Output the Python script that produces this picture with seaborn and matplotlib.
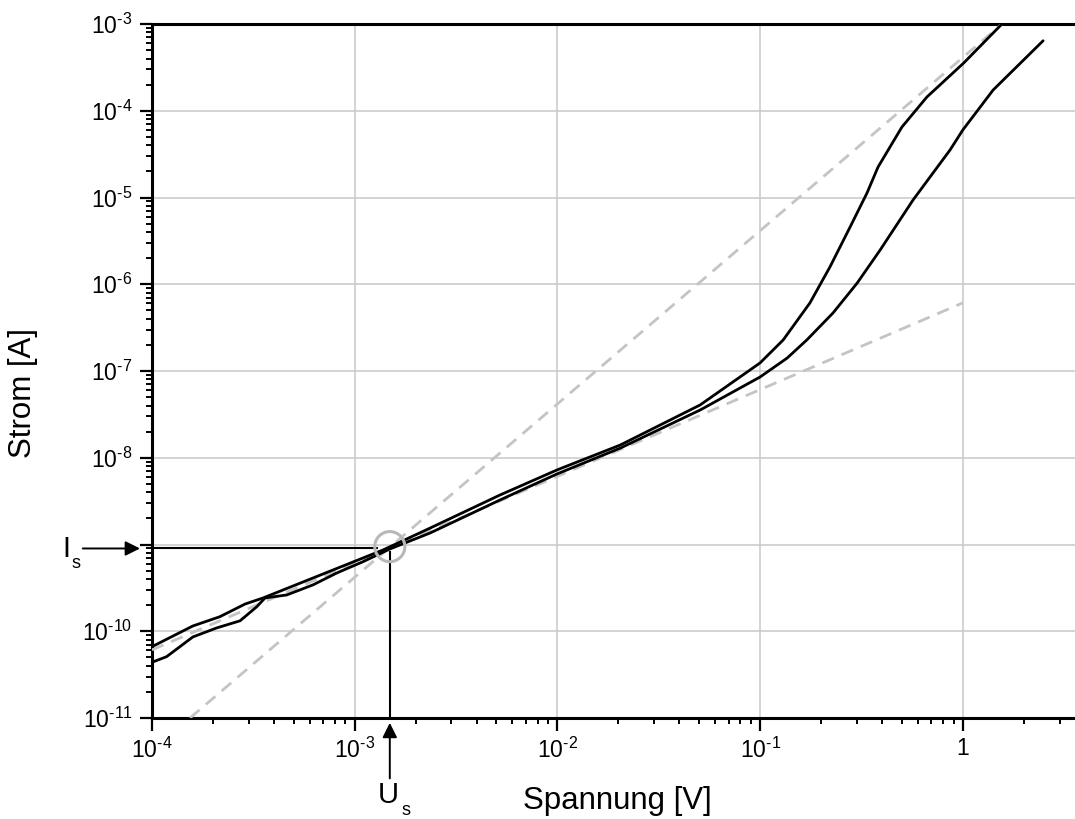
import numpy as np
import pandas as pd
import matplotlib
matplotlib.use("Agg")
import matplotlib.pyplot as plt
import matplotlib.ticker as mticker
import seaborn as sns

# ---------------- data ----------------
curve1_V = [1.00e-4, 1.59e-4, 2.16e-4, 2.88e-4, 3.53e-4, 5.37e-4, 8.45e-4, 1.38e-3,
            2.36e-3, 5.21e-3, 9.95e-3, 2.04e-2, 5.06e-2, 0.100, 0.130, 0.176, 0.221,
            0.278, 0.337, 0.382, 0.501, 0.665, 1.01, 1.56]
curve1_I = [6.64e-11, 1.15e-10, 1.47e-10, 2.06e-10, 2.42e-10, 3.58e-10, 5.47e-10, 8.65e-10,
            1.55e-9, 3.72e-9, 7.23e-9, 1.40e-8, 4.06e-8, 1.24e-7, 2.28e-7, 6.08e-7, 1.58e-6,
            4.57e-6, 1.13e-5, 2.25e-5, 6.50e-5, 1.44e-4, 3.55e-4, 1.00e-3]

curve2_V = [1.00e-4, 1.18e-4, 1.59e-4, 2.08e-4, 2.72e-4, 3.29e-4, 3.61e-4, 4.62e-4,
            6.22e-4, 8.15e-4, 1.10e-3, 1.49e-3, 2.36e-3, 5.21e-3, 9.95e-3, 2.04e-2,
            5.06e-2, 0.100, 0.136, 0.170, 0.229, 0.301, 0.391, 0.568, 0.865, 1.00, 1.41, 2.49]
curve2_I = [4.39e-11, 5.09e-11, 8.59e-11, 1.09e-10, 1.32e-10, 1.92e-10, 2.42e-10, 2.62e-10,
            3.42e-10, 4.69e-10, 6.34e-10, 8.87e-10, 1.36e-9, 3.26e-9, 6.50e-9, 1.29e-8,
            3.55e-8, 8.53e-8, 1.41e-7, 2.28e-7, 4.67e-7, 1.03e-6, 2.48e-6, 9.35e-6,
            3.53e-5, 6.00e-5, 1.73e-4, 6.41e-4]

ohm_V = [1.0e-4, 1.0]
ohm_I = [6.1e-11, 6.1e-7]
sclc_V = [1.54e-4, 1.56]
sclc_I = [1.0e-11, 1.0e-3]

Is_value = 9.0e-10
Us_value = 1.49e-3
Is_line_end_V = 1.30e-3

y_ticks = [1e-11, 1e-10, 1e-9, 1e-8, 1e-7, 1e-6, 1e-5, 1e-4, 1e-3]
y_labels = ['10^{-11}', '10^{-10}', '', '10^{-8}', '10^{-7}', '10^{-6}', '10^{-5}',
            '10^{-4}', '10^{-3}']
x_ticks = [1e-4, 1e-3, 1e-2, 1e-1, 1]
x_labels = ['10^{-4}', '10^{-3}', '10^{-2}', '10^{-1}', '1']

# ---------------- style ----------------
sns.set_style("white")
plt.rcParams['font.family'] = ['Liberation Sans', 'DejaVu Sans']
plt.rcParams['mathtext.fontset'] = 'custom'
plt.rcParams['mathtext.rm'] = 'Liberation Sans'
plt.rcParams['mathtext.it'] = 'Liberation Sans:italic'
plt.rcParams['mathtext.bf'] = 'Liberation Sans:bold'
for k in ['text.color', 'axes.labelcolor', 'xtick.color', 'ytick.color']:
    plt.rcParams[k] = 'black'

W, H = 1075, 819
fig = plt.figure(figsize=(W / 100, H / 100), dpi=100)
ax = fig.add_axes([152 / W, (H - 718) / H, (W - 152) / W, 694 / H])

ax.set_xscale('log')
ax.set_yscale('log')

grey = '#c4c4c4'
# dashed fit lines
sns.lineplot(x=ohm_V, y=ohm_I, ax=ax, color=grey, lw=2.0, zorder=3)
sns.lineplot(x=sclc_V, y=sclc_I, ax=ax, color=grey, lw=2.0, zorder=3)
for ln in ax.get_lines():
    ln.set_dashes((4.5, 3.0))

# measured curves
df1 = pd.DataFrame({'V': curve1_V, 'I': curve1_I})
df2 = pd.DataFrame({'V': curve2_V, 'I': curve2_I})
sns.lineplot(data=df1, x='V', y='I', ax=ax, color='black', lw=2.0, sort=False,
             estimator=None, zorder=4)
sns.lineplot(data=df2, x='V', y='I', ax=ax, color='black', lw=2.0, sort=False,
             estimator=None, zorder=4)

# limits
ax.set_xlim(1e-4, 10 ** ((W - 152) / 202.7 - 4))
ax.set_ylim(1e-11, 1e-3)

# Is / Us construction lines
ax.plot([1e-4, Is_line_end_V], [Is_value, Is_value], color='black', lw=1.5, zorder=5,
        solid_capstyle='butt')
ax.plot([Us_value, Us_value], [Is_value * 0.93, 1e-11], color='black', lw=1.5, zorder=5,
        solid_capstyle='butt')
ax.scatter([Us_value], [Is_value * 1.05], s=470, facecolors='none', edgecolors='#b8b8b8',
           linewidths=2.2, zorder=6)

# arrows
ax.annotate('', xy=(-0.013, Is_value), xycoords=('axes fraction', 'data'),
            xytext=(-0.075, Is_value), textcoords=('axes fraction', 'data'),
            arrowprops=dict(arrowstyle='-|>', color='black', lw=1.4,
                            mutation_scale=22, shrinkA=0, shrinkB=0),
            annotation_clip=False)
ax.annotate('', xy=(Us_value, -0.007), xycoords=('data', 'axes fraction'),
            xytext=(Us_value, -0.087), textcoords=('data', 'axes fraction'),
            arrowprops=dict(arrowstyle='-|>', color='black', lw=1.4,
                            mutation_scale=22, shrinkA=0, shrinkB=0),
            annotation_clip=False)

fig.text(62 / W, 1 - 557 / H, 'I', fontsize=21, va='baseline', ha='left')
fig.text(71 / W, 1 - 568 / H, 's', fontsize=13, va='baseline', ha='left')
fig.text(378 / W, 1 - 803 / H, 'U', fontsize=21, va='baseline', ha='left')
fig.text(402 / W, 1 - 815 / H, 's', fontsize=13, va='baseline', ha='left')

# ticks
ax.xaxis.set_major_locator(mticker.FixedLocator(x_ticks))
ax.yaxis.set_major_locator(mticker.FixedLocator(y_ticks))
ax.xaxis.set_minor_locator(mticker.LogLocator(base=10, subs=np.arange(2, 10), numticks=50))
ax.yaxis.set_minor_locator(mticker.LogLocator(base=10, subs=np.arange(2, 10), numticks=50))


def to_math(s):
    if s == '' or '^' not in s:
        return s
    return r'$\mathregular{' + s.replace('{-', r'{\text{-}') + '}$'


ax.xaxis.set_major_formatter(mticker.FixedFormatter([to_math(s) for s in x_labels]))
ax.yaxis.set_major_formatter(mticker.FixedFormatter([to_math(s) for s in y_labels]))
ax.xaxis.set_minor_formatter(mticker.NullFormatter())
ax.yaxis.set_minor_formatter(mticker.NullFormatter())

ax.tick_params(axis='both', which='major', direction='out', length=9, width=1.6,
               labelsize=16.5, color='black', pad=5, bottom=True, left=True)
ax.tick_params(axis='both', which='minor', direction='out', length=4.5, width=1.4,
               color='black', bottom=True, left=True)

# grid
ax.grid(True, which='major', color='#c8c8c8', lw=1.1, zorder=0)
ax.grid(False, which='minor')
ax.set_axisbelow(True)

# spines
for side in ['left', 'bottom', 'top']:
    ax.spines[side].set_visible(True)
    ax.spines[side].set_color('black')
    ax.spines[side].set_linewidth(2.2)
ax.spines['right'].set_visible(False)

# labels
ax.set_xlabel('Spannung [V]', fontsize=22.5)
ax.set_ylabel('Strom [A]', fontsize=22.5)
ax.xaxis.set_label_coords((617 - 152) / (W - 152), (718 - 786) / 694)
ax.yaxis.set_label_coords((38 - 152) / (W - 152), (718 - 393) / 694)

fig.savefig('out.png', dpi=100)
